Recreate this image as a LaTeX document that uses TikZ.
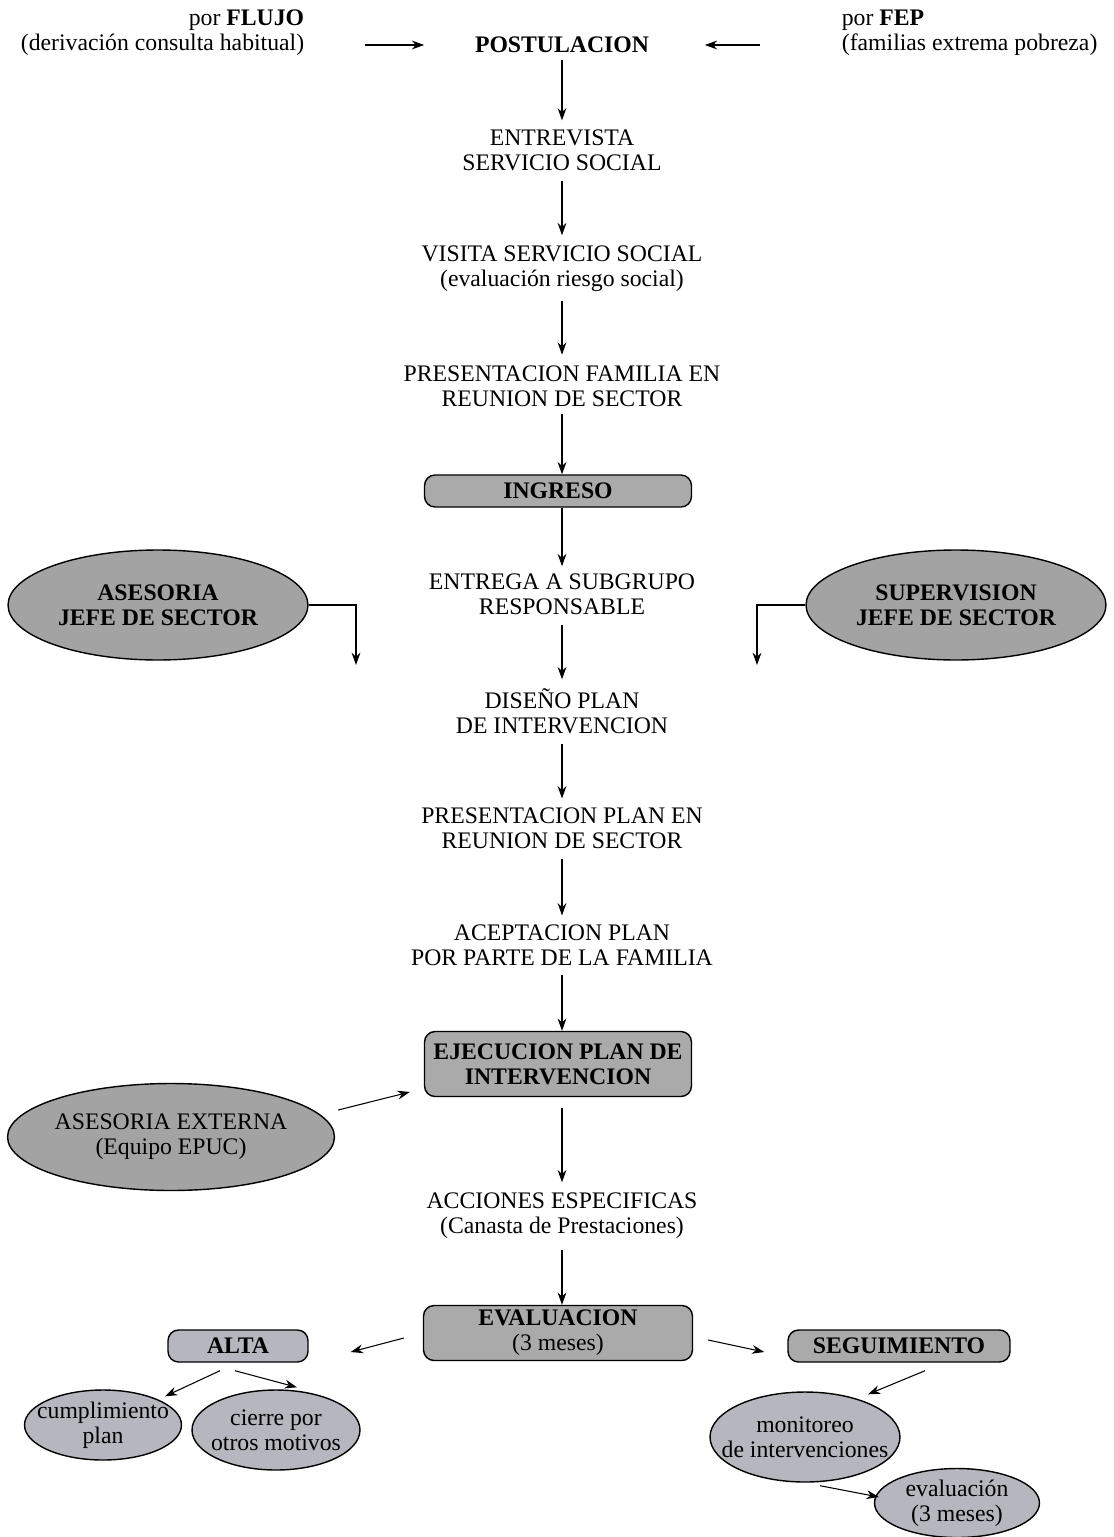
\documentclass[tikz,border=0pt]{standalone}
\usepackage{fontspec}
\setmainfont{Liberation Serif}
\usepackage{tikz}
\usetikzlibrary{arrows.meta}
\usetikzlibrary{calc}
\usetikzlibrary{shapes.geometric}
\definecolor{boxgray}{RGB}{170,170,170}
\definecolor{ovalgray}{RGB}{163,163,163}
\definecolor{lightoval}{RGB}{182,182,190}
\tikzstyle{txt} = [align=center,inner sep=2pt,font=\fontsize{13.5}{14.2}\selectfont]
\tikzstyle{box} = [txt,draw,thick,rounded corners=6pt,fill=boxgray,font=\fontsize{13.5}{14.2}\selectfont\bfseries]
\tikzstyle{oval} = [txt,draw,thick,ellipse,inner sep=0pt,fill=ovalgray]
\tikzstyle{smalloval} = [oval,fill=lightoval]
\tikzstyle{connector} = [->,semithick]
\tikzstyle{line} = [semithick]

\begin{document}
\begin{tikzpicture}[x=0.02cm, y=-0.02cm, >={Stealth[length=7pt,width=5pt]}]
    \useasboundingbox (0,0) rectangle (1113,1537);
    % entry points
    \node[txt, align=right, anchor=east] (flujo) at (308,33)
      {por \textbf{FLUJO}\\(derivación consulta habitual)};
    \node[txt, align=left, anchor=west] (fep) at (838,33)
      {por \textbf{FEP}\\(familias extrema pobreza)};
    \node[txt, font=\fontsize{13.5}{14.2}\selectfont\bfseries] (post) at (562,45) {POSTULACION};

    % main column
    \node[txt] (entrev) at (562,150) {ENTREVISTA\\SERVICIO SOCIAL};
    \node[txt] (visita) at (562,269) {VISITA SERVICIO SOCIAL\\(evaluación riesgo social)};
    \node[txt] (presfam) at (562,386) {PRESENTACION FAMILIA EN\\REUNION DE SECTOR};
    \node[box, minimum width=5.34cm, minimum height=0.64cm] (ingreso) at (558,491) {INGRESO};
    \node[txt] (entrega) at (562,594) {ENTREGA A SUBGRUPO\\RESPONSABLE};
    \node[txt] (diseno) at (562,711) {DISEÑO PLAN\\DE INTERVENCION};
    \node[txt] (presplan) at (562,828) {PRESENTACION PLAN EN\\REUNION DE SECTOR};
    \node[txt] (acept) at (562,945) {ACEPTACION PLAN\\POR PARTE DE LA FAMILIA};
    \node[box, minimum width=5.34cm, minimum height=1.3cm] (ejec) at (558,1064)
      {EJECUCION PLAN DE\\INTERVENCION};
    \node[txt] (acciones) at (562,1216) {ACCIONES ESPECIFICAS\\(Canasta de Prestaciones)};
    \node[box, minimum width=5.38cm, minimum height=1.1cm] (eval) at (558,1333)
      {EVALUACION\\\mdseries(3 meses)};

    % side nodes
    \node[oval, minimum width=6cm, minimum height=2.2cm, font=\fontsize{13.5}{14.2}\selectfont\bfseries]
      (asesoria) at (158,605) {ASESORIA\\JEFE DE SECTOR};
    \node[oval, minimum width=6cm, minimum height=2.2cm, font=\fontsize{13.5}{14.2}\selectfont\bfseries]
      (superv) at (956,605) {SUPERVISION\\JEFE DE SECTOR};
    \node[oval, inner xsep=-0.1cm, minimum width=6.54cm, minimum height=2.14cm] (externa) at (171,1137)
      {ASESORIA EXTERNA\\(Equipo EPUC)};
    \coordinate (asesdown) at (356,665);
    \coordinate (superdown) at (757,665);

    % outcome nodes
    \node[box, minimum width=2.8cm, minimum height=0.64cm, fill=lightoval] (alta) at (238,1346) {ALTA};
    \node[box, minimum width=4.44cm, minimum height=0.64cm] (seguim) at (899,1346) {SEGUIMIENTO};
    \node[smalloval, inner xsep=-0.24cm, minimum width=3.14cm, minimum height=1.4cm] (cumpl) at (103,1425)
      {cumplimiento\\plan};
    \node[smalloval, inner xsep=-0.14cm, minimum width=3.36cm, minimum height=1.6cm] (cierre) at (276,1430)
      {cierre por\\otros motivos};
    \node[smalloval, inner xsep=-0.36cm, minimum width=3.8cm, minimum height=1.8cm] (monit) at (805,1437)
      {monitoreo\\de intervenciones};
    \node[smalloval, minimum width=3.3cm, minimum height=1.38cm] (evalc) at (957,1503)
      {evaluación\\(3 meses)};

    % now link the nodes
    \draw [connector, shorten <=1.14cm, shorten >=0.94cm] (flujo.east |- post.west) -- (post.west);
    \draw [connector, shorten <=1.56cm, shorten >=1.04cm] (fep.west |- post.east) -- (post.east);
    \draw [connector, shorten <=2pt, shorten >=3pt] (post) -- (entrev);
    \draw [connector, shorten <=4pt, shorten >=4pt] (entrev) -- (visita);
    \draw [connector, shorten <=3pt, shorten >=4pt] (visita) -- (presfam);
    \draw [connector, shorten <=2pt] (presfam) -- (presfam |- ingreso.north);
    \draw [connector, shorten >=2pt] (ingreso.south -| entrega) -- (entrega);
    \draw [connector, shorten <=4pt, shorten >=3pt] (entrega) -- (diseno);
    \draw [connector, shorten <=4pt, shorten >=3pt] (diseno) -- (presplan);
    \draw [connector, shorten <=4pt, shorten >=3pt] (presplan) -- (acept);
    \draw [connector, shorten <=3pt] (acept) -- (acept |- ejec.north);
    \draw [connector, shorten <=0.22cm, shorten >=4pt] (ejec.south -| acciones) -- (acciones);
    \draw [connector, shorten <=4pt] (acciones) -- (acciones |- eval.north);

    \draw [connector] (asesoria.east) -| (asesdown);
    \draw [connector] (superv.west) -| (superdown);
    \draw [connector] ($(externa.east)+(3,-27)$) -- ($(ejec.west)+(-14,28)$);

    \draw [connector] ($(eval.west)+(-19,5)$) -- ($(alta.east)+(42,6)$);
    \draw [connector] ($(eval.east)+(15,7)$) -- ($(seguim.west)+(-23,6)$);
    \draw [connector] ($(alta.south)+(-18,8)$) -- ($(cumpl.north)+(62,7)$);
    \draw [connector] ($(alta.south)+(-3,8)$) -- ($(cierre.north)+(21,-2)$);
    \draw [connector] ($(seguim.south)+(26,8)$) -- ($(monit.north)+(63,3)$);
    \draw [connector] ($(monit.south)+(15,3)$) -- ($(evalc.west)+(5,-6)$);
\end{tikzpicture}
\end{document}
